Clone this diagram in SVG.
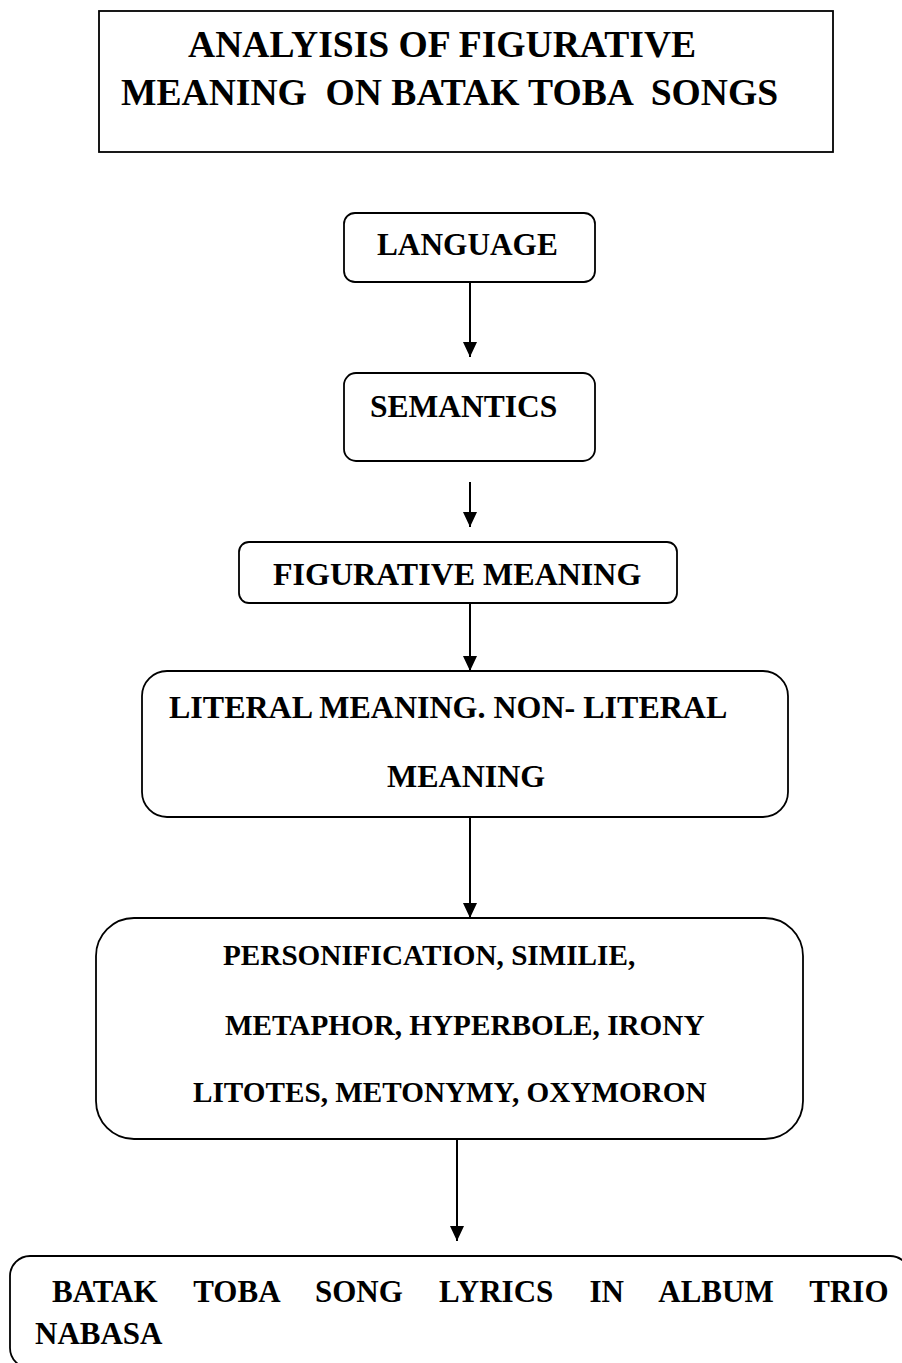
<svg xmlns="http://www.w3.org/2000/svg" width="902" height="1363" viewBox="0 0 902 1363">
<style>
.box{fill:#fff;stroke:#000;stroke-width:1.8}
.t{font-family:"Liberation Serif","Times New Roman",serif;font-weight:bold;fill:#000}
.c{stroke:#000;stroke-width:2;fill:none}
</style>
<defs>
<marker id="ah" markerUnits="userSpaceOnUse" markerWidth="16" markerHeight="16" viewBox="0 0 16 16" refX="15" refY="8" orient="auto">
<path d="M0,1 L15,8 L0,15 Z" fill="#000"/>
</marker>
</defs>
<rect width="902" height="1363" fill="#fff"/>
<g id="connectors">
<line class="c" x1="470" y1="282" x2="470" y2="357" marker-end="url(#ah)"/>
<line class="c" x1="470" y1="482" x2="470" y2="527" marker-end="url(#ah)"/>
<line class="c" x1="470" y1="603" x2="470" y2="671" marker-end="url(#ah)"/>
<line class="c" x1="470" y1="817" x2="470" y2="918" marker-end="url(#ah)"/>
<line class="c" x1="457" y1="1139" x2="457" y2="1241" marker-end="url(#ah)"/>
</g>
<g id="title">
<rect class="box" x="99" y="11" width="734" height="141"/>
<text class="t" font-size="37.6" x="188" y="57" xml:space="preserve" style="white-space:pre">ANALYISIS OF FIGURATIVE</text>
<text class="t" font-size="37.6" x="121" y="105" xml:space="preserve" style="white-space:pre">MEANING  ON BATAK TOBA  SONGS</text>
</g>
<g id="language">
<rect class="box" x="344" y="213" width="251" height="69" rx="11"/>
<text class="t" font-size="31.3" x="377" y="255">LANGUAGE</text>
</g>
<g id="semantics">
<rect class="box" x="344" y="373" width="251" height="88" rx="12"/>
<text class="t" font-size="31.5" x="370" y="417">SEMANTICS</text>
</g>
<g id="figurative">
<rect class="box" x="239" y="542" width="438" height="61" rx="10"/>
<text class="t" font-size="32" x="273" y="585">FIGURATIVE MEANING</text>
</g>
<g id="literal">
<rect class="box" x="142" y="671" width="646" height="146" rx="25"/>
<text class="t" font-size="32" x="169" y="718">LITERAL MEANING. NON- LITERAL</text>
<text class="t" font-size="32" x="387" y="787">MEANING</text>
</g>
<g id="types">
<rect class="box" x="96" y="918" width="707" height="221" rx="38"/>
<text class="t" font-size="29.2" x="223" y="965">PERSONIFICATION, SIMILIE,</text>
<text class="t" font-size="29.2" x="225" y="1035">METAPHOR, HYPERBOLE, IRONY</text>
<text class="t" font-size="29.2" x="193" y="1102">LITOTES, METONYMY, OXYMORON</text>
</g>
<g id="lyrics">
<rect class="box" x="10" y="1256" width="900" height="112" rx="20"/>
<text class="t" font-size="31" x="52" y="1302" word-spacing="28.4">BATAK TOBA SONG LYRICS IN ALBUM TRIO</text>
<text class="t" font-size="31" x="35" y="1344">NABASA</text>
</g>
</svg>
